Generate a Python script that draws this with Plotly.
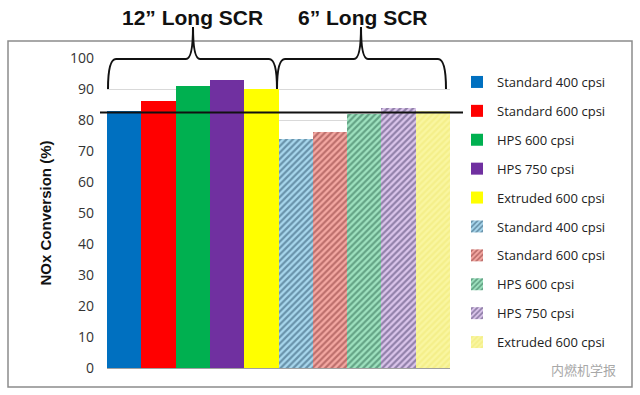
import plotly.graph_objects as go

# ---- data ----
labels = ["Standard 400 cpsi", "Standard 600 cpsi", "HPS 600 cpsi", "HPS 750 cpsi", "Extruded 600 cpsi"]
long12_values = [83, 86, 91, 93, 90]
long6_values = [74, 76, 82, 84, 83]
group_titles = ["12\u201d Long SCR", "6\u201d Long SCR"]
target_level = 82.4
y_ticks = [0, 10, 20, 30, 40, 50, 60, 70, 80, 90, 100]
watermark = "内燃机学报"

solid_colors = ["#0070c0", "#ff0000", "#00b050", "#7030a0", "#ffff00"]
hatch_bg = ["#a9d8ee", "#f5a9a3", "#9fe3c0", "#dcc6ec", "#f9f6a0"]
hatch_fg = ["#274c66", "#843434", "#28634a", "#463a66", "#efe874"]

W, H = 640, 395
L, R, T, B = 107, 450, 58, 368

def px(x):
    return (x - L) / (R - L)

def py(y):
    return (B - y) / (B - T)

fig = go.Figure()
n = len(labels)
for i, (lab, v) in enumerate(zip(labels, long12_values)):
    fig.add_trace(go.Bar(
        x=[i], y=[v], width=1, name=lab, legendgroup="a%d" % i,
        marker=dict(color=solid_colors[i], line=dict(width=0)),
    ))
for i, (lab, v) in enumerate(zip(labels, long6_values)):
    fig.add_trace(go.Bar(
        x=[n + i], y=[v], width=1, name=lab, legendgroup="b%d" % i,
        marker=dict(color=hatch_bg[i], line=dict(width=0),
                    pattern=dict(shape="/", fgcolor=hatch_fg[i], bgcolor=hatch_bg[i],
                                 size=4.5, solidity=0.5)),
    ))

shapes = []
# outer border
shapes.append(dict(type="rect", xref="paper", yref="paper",
                   x0=px(8), x1=px(632), y0=py(387), y1=py(41),
                   line=dict(color="#8c8c8c", width=1.5), layer="below"))
# target line
shapes.append(dict(type="line", xref="paper", yref="y",
                   x0=px(100), x1=px(463), y0=target_level, y1=target_level,
                   line=dict(color="#111111", width=2)))

def brace(x0, x1, xt, yb=89, yt=59, ytip=27, r=8, rt=7):
    pts = [
        f"M {px(x0)},{py(yb)}",
        f"Q {px(x0)},{py(yt)} {px(x0 + r)},{py(yt)}",
        f"L {px(xt - rt)},{py(yt)}",
        f"Q {px(xt)},{py(yt)} {px(xt)},{py(ytip)}",
        f"Q {px(xt)},{py(yt)} {px(xt + rt)},{py(yt)}",
        f"L {px(x1 - r)},{py(yt)}",
        f"Q {px(x1)},{py(yt)} {px(x1)},{py(yb)}",
    ]
    return dict(type="path", xref="paper", yref="paper", path=" ".join(pts),
                line=dict(color="#111111", width=2))

shapes.append(brace(108, 277, 193))
shapes.append(brace(277, 446, 361))

annotations = [
    dict(text="<b>%s</b>" % group_titles[0], x=px(192), y=py(18), xref="paper", yref="paper",
         showarrow=False, xanchor="center", yanchor="middle",
         font=dict(family="Liberation Sans Narrow, Liberation Sans", size=21, color="#111111")),
    dict(text="<b>%s</b>" % group_titles[1], x=px(363), y=py(18), xref="paper", yref="paper",
         showarrow=False, xanchor="center", yanchor="middle",
         font=dict(family="Liberation Sans Narrow, Liberation Sans", size=21, color="#111111")),
    dict(text=watermark, x=px(618), y=py(369), xref="paper", yref="paper",
         showarrow=False, xanchor="right", yanchor="middle",
         font=dict(family="Noto Sans CJK SC", size=13, color="#a8a8a8")),
]

fig.update_layout(
    width=W, height=H,
    margin=dict(l=L, r=W - R, t=T, b=H - B, pad=0),
    paper_bgcolor="white", plot_bgcolor="white",
    barmode="overlay", bargap=0,
    showlegend=True,
    legend=dict(x=px(457), y=py(67), xanchor="left", yanchor="top",
                font=dict(family="Open Sans", size=13, color="#222222"),
                tracegroupgap=9, itemwidth=30, bgcolor="rgba(0,0,0,0)"),
    shapes=shapes, annotations=annotations,
    xaxis=dict(range=[-0.5, 2 * n - 0.5], showticklabels=False, showgrid=False,
               zeroline=False, showline=False, fixedrange=True),
    yaxis=dict(range=[0, 100], tickvals=y_ticks, showgrid=True, gridcolor="#d9d9d9",
               gridwidth=1, zeroline=True, zerolinecolor="#a0a0a0", showline=False,
               ticklabelstandoff=12,
               tickfont=dict(family="Open Sans", size=14, color="#333333"),
               title=dict(text="<b>NOx Conversion (%)</b>", standoff=14,
                          font=dict(family="Liberation Sans", size=15, color="#111111"))),
)

fig.write_html("out.html", config={"displayModeBar": False},
               post_script="document.body.style.margin='0';")
